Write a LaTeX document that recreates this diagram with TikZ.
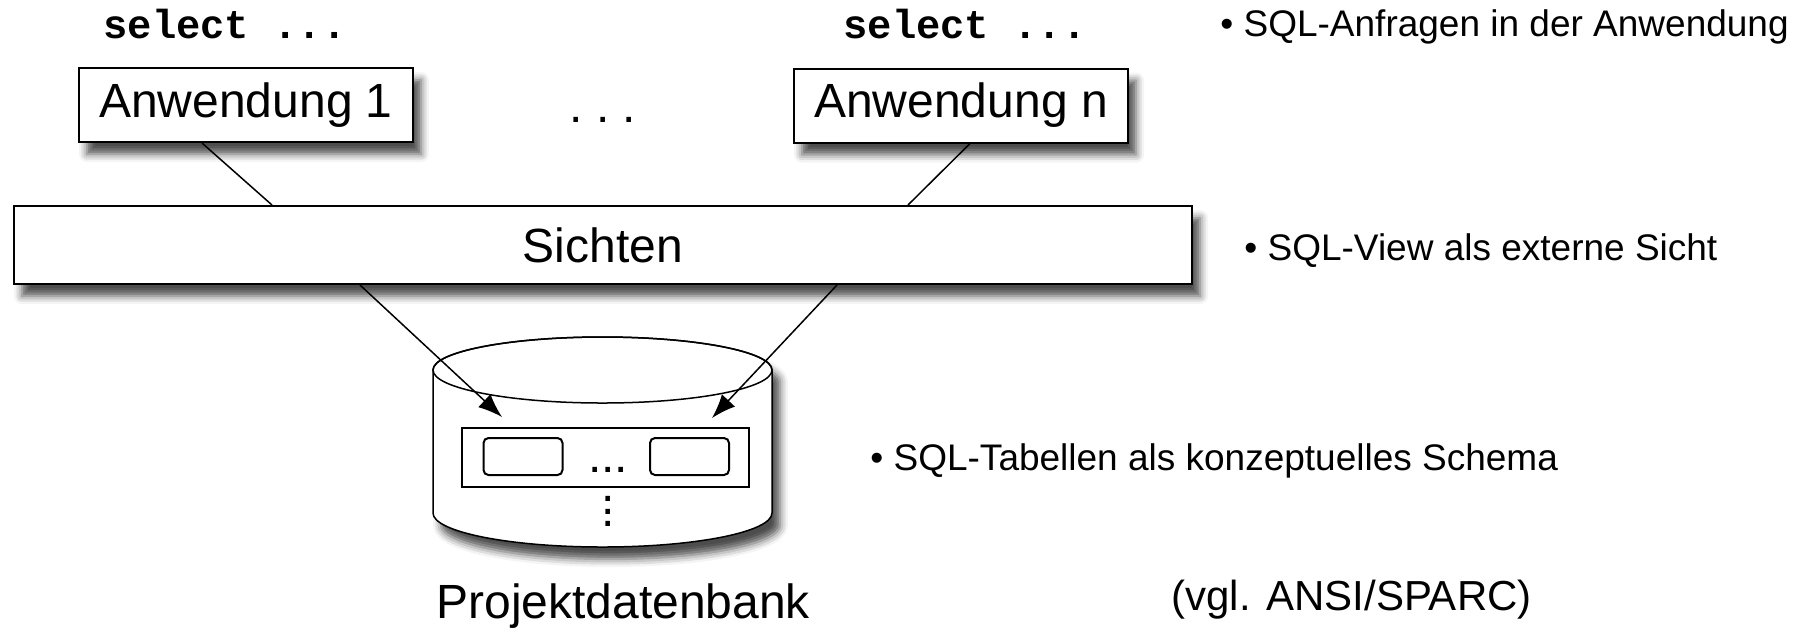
\documentclass[tikz,border=0pt]{standalone}
\usepackage{fontspec}
\setmainfont{Liberation Sans}
\setmonofont{Liberation Mono}
\usepackage{tikz}
\usetikzlibrary{arrows.meta,positioning,shapes,backgrounds,shadows.blur}
\tikzstyle{every node}=[inner sep=0pt]
\tikzstyle{schatten}=[blur shadow={shadow xshift=4pt, shadow yshift=-6pt, shadow blur radius=4pt, shadow opacity=70}]
\tikzstyle{appbox}=[rectangle, draw=black, line width=1pt, fill=white, schatten, minimum width=167pt, minimum height=37pt, font=\fontsize{24}{28}\selectfont]
\tikzstyle{viewbox}=[appbox, minimum width=589pt, minimum height=39pt]
\tikzstyle{tablebox}=[rectangle, draw=black, line width=1pt, minimum width=143.5pt, minimum height=29.5pt]
\tikzstyle{relbox}=[rectangle, rounded corners=2.5pt, draw=black, line width=1pt, minimum width=39.5pt, minimum height=18.5pt]
\tikzstyle{query}=[anchor=base west, font=\ttfamily\bfseries\fontsize{20.25}{24}\selectfont]
\tikzstyle{note}=[anchor=base west, font=\fontsize{18.5}{22}\selectfont]
\tikzstyle{bigtext}=[font=\fontsize{24}{28}\selectfont]
\tikzstyle{link}=[line width=0.75pt, draw=black]
\newcommand{\stuetz}{\textbullet\ }
\begin{document}
\begin{tikzpicture}[x=0.5pt, y=-0.5pt, >={Latex[length=12pt,width=9pt,fill=black]}]
		\useasboundingbox (0,0) rectangle (1813,634);
		
		\node[query] at (103,38) (sel1) {select ...};
		\node[query] at (843,38) (seln) {select ...};
		
		\node[appbox] at (246,105) (app1) {Anwendung 1};
		\node[appbox] at (961,105.5) (appn) {Anwendung n};
		\node[bigtext, anchor=base] at (603,122) (appdots) {.\ .\ .};
		
		\node[viewbox] at (603,245) (sichten) {Sichten};
		
		% Datenbank
		\draw[line width=0.75pt, fill=white, schatten] (433,370) -- (433,513)
			arc[start angle=180, end angle=360, x radius=84.75pt, y radius=17pt]
			-- (772,370) arc[start angle=0, end angle=180, x radius=84.75pt, y radius=16.5pt] -- cycle;
		\draw[line width=0.75pt] (602.5,370) ellipse[x radius=84.75pt, y radius=16.5pt];
		
		\node[tablebox] at (605.5,457.5) (tables) {};
		\node[relbox] at (523,456.5) (rel1) {};
		\node[relbox] at (689.5,456.5) (reln) {};
		\node[bigtext, anchor=base] at (608,472) (reldots) {...};
		\node[align=center, font=\fontsize{24}{6.25}\selectfont, anchor=north] at (608,496) (moredots) {.\\.\\.};
		\coordinate (in1) at (502,417);
		\coordinate (inn) at (712,418);
		
		\node[bigtext, anchor=base west] at (436,618) (db) {Projektdatenbank};
		
		\node[note] at (1220,36) (n1) {\stuetz SQL-Anfragen in der Anwendung};
		\node[note] at (1244,260) (n2) {\stuetz SQL-View als externe Sicht};
		\node[note] at (870,470) (n3) {\stuetz SQL-Tabellen als konzeptuelles Schema};
		\node[anchor=base east, font=\fontsize{21}{25}\selectfont] at (1532,610) (vgl) {(vgl. ANSI/SPARC)};
		
		\begin{scope}[on background layer]
		\draw[link] ([xshift=-22pt]app1.south) -- ([xshift=-165.5pt]sichten.north);
		\draw[link] ([xshift=4.5pt]appn.south) -- ([xshift=152.5pt]sichten.north);
		\end{scope}
		\draw[link, ->] ([xshift=-121.5pt]sichten.south) -- (in1);
		\draw[link, ->] ([xshift=117pt]sichten.south) -- (inn);
		
\end{tikzpicture}
\end{document}
